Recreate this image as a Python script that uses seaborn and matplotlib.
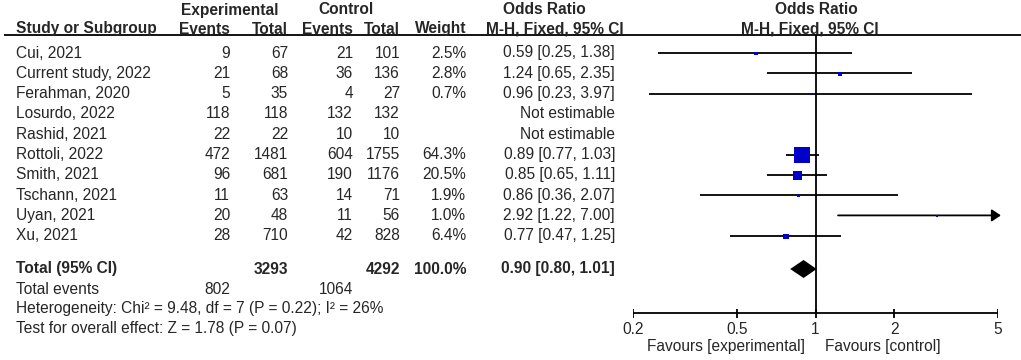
import numpy as np
import pandas as pd
import matplotlib
matplotlib.use("Agg")
import matplotlib.pyplot as plt
import seaborn as sns

# --- data ---
studies = ["Cui, 2021", "Current study, 2022", "Ferahman, 2020", "Losurdo, 2022",
           "Rashid, 2021", "Rottoli, 2022", "Smith, 2021", "Tschann, 2021",
           "Uyan, 2021", "Xu, 2021"]
exp_events = [9, 21, 5, 118, 22, 472, 96, 11, 20, 28]
exp_total = [67, 68, 35, 118, 22, 1481, 681, 63, 48, 710]
ctl_events = [21, 36, 4, 132, 10, 604, 190, 14, 11, 42]
ctl_total = [101, 136, 27, 132, 10, 1755, 1176, 71, 56, 828]
weights = [2.5, 2.8, 0.7, np.nan, np.nan, 64.3, 20.5, 1.9, 1.0, 6.4]
odds = [0.59, 1.24, 0.96, np.nan, np.nan, 0.89, 0.85, 0.86, 2.92, 0.77]
ci_low = [0.25, 0.65, 0.23, np.nan, np.nan, 0.77, 0.65, 0.36, 1.22, 0.47]
ci_high = [1.38, 2.35, 3.97, np.nan, np.nan, 1.03, 1.11, 2.07, 7.00, 1.25]

total_exp, total_ctl = 3293, 4292
events_exp, events_ctl = 802, 1064
pooled_or, pooled_lo, pooled_hi = 0.90, 0.80, 1.01
heterogeneity = "Heterogeneity: Chi² = 9.48, df = 7 (P = 0.22); I² = 26%"
overall = "Test for overall effect: Z = 1.78 (P = 0.07)"
ticks = [0.2, 0.5, 1, 2, 5]
tick_labels = ["0.2", "0.5", "1", "2", "5"]

df = pd.DataFrame({"study": studies, "w": weights, "or": odds,
                   "lo": ci_low, "hi": ci_high})

sns.set_theme(style="white")
plt.rcParams["font.family"] = ["Liberation Sans", "DejaVu Sans"]

W, H = 1021, 360
fig = plt.figure(figsize=(W / 100, H / 100), dpi=100)
fig.patch.set_facecolor("white")

# background axes in pixel coords for the table text
bg = fig.add_axes([0, 0, 1, 1])
bg.set_xlim(0, W)
bg.set_ylim(H, 0)
bg.axis("off")

# forest axes: log scale spanning 0.2..5
x0, x1 = 633, 998
ax = fig.add_axes([x0 / W, 0, (x1 - x0) / W, 1])
ax.patch.set_alpha(0)

fs = 11.2
lw = 1.3
row_y = [53 + 20.3 * i for i in range(len(studies))]
df["y"] = row_y
y_total, y_events, y_het, y_test = 269, 290, 309, 328

# headers
hb = dict(fontsize=fs, fontweight="bold", va="center")
bg.text(230, 10, "Experimental", ha="center", **hb)
bg.text(346, 10, "Control", ha="center", **hb)
bg.text(544, 10, "Odds Ratio", ha="center", **hb)
bg.text(16, 29, "Study or Subgroup", ha="left", **hb)
bg.text(230, 29, "Events", ha="right", **hb)
bg.text(288, 29, "Total", ha="right", **hb)
bg.text(353, 29, "Events", ha="right", **hb)
bg.text(400, 29, "Total", ha="right", **hb)
bg.text(466, 29, "Weight", ha="right", **hb)
bg.text(555, 29, "M-H, Fixed, 95% CI", ha="center", **hb)
bg.text(816, 10, "Odds Ratio", ha="center", **hb)
bg.text(810, 29, "M-H, Fixed, 95% CI", ha="center", **hb)
bg.hlines(35, 4, W, color="black", lw=lw)

# study rows
rt = dict(fontsize=fs, va="center")
for i, r in df.iterrows():
    y = r["y"]
    bg.text(16, y, r["study"], ha="left", **rt)
    bg.text(230, y, str(exp_events[i]), ha="right", **rt)
    bg.text(288, y, str(exp_total[i]), ha="right", **rt)
    bg.text(353, y, str(ctl_events[i]), ha="right", **rt)
    bg.text(400, y, str(ctl_total[i]), ha="right", **rt)
    if np.isnan(r["or"]):
        bg.text(615, y, "Not estimable", ha="right", **rt)
        continue
    bg.text(466, y, f"{r['w']:.1f}%", ha="right", **rt)
    bg.text(615, y, f"{r['or']:.2f} [{r['lo']:.2f}, {r['hi']:.2f}]", ha="right", **rt)
    if r["hi"] > 5:
        ax.annotate("", xy=(5.13, y), xytext=(r["lo"], y),
                    arrowprops=dict(arrowstyle="-|>,head_length=0.45,head_width=0.3",
                                    lw=lw, color="black", shrinkA=0, shrinkB=0),
                    annotation_clip=False)
    else:
        ax.hlines(y, r["lo"], r["hi"], color="black", lw=lw)

est = df.dropna(subset=["or"])
sns.scatterplot(x=est["or"], y=est["y"] + 0.5, s=est["w"] * 2.0 + 2, marker="s",
                color="#0000C8", linewidth=0, legend=False, ax=ax, zorder=3)
ax.set_xscale("log")
ax.set_xlim(0.2, 5)
ax.set_ylim(H, 0)
ax.axis("off")

# total row
bg.text(16, y_total, "Total (95% CI)", ha="left", **hb)
bg.text(288, y_total, str(total_exp), ha="right", **hb)
bg.text(400, y_total, str(total_ctl), ha="right", **hb)
bg.text(466, y_total, "100.0%", ha="right", **hb)
bg.text(615, y_total, f"{pooled_or:.2f} [{pooled_lo:.2f}, {pooled_hi:.2f}]", ha="right", **hb)
ax.fill([pooled_lo, pooled_or, pooled_hi, pooled_or],
        [y_total, y_total - 9, y_total, y_total + 9], color="black", lw=0)

bg.text(16, y_events, "Total events", ha="left", **rt)
bg.text(230, y_events, str(events_exp), ha="right", **rt)
bg.text(353, y_events, str(events_ctl), ha="right", **rt)
bg.text(16, y_het, heterogeneity, ha="left", **rt)
bg.text(16, y_test, overall, ha="left", **rt)

# null line and axis
axis_y = 313
ax.vlines(1, 35, axis_y, color="black", lw=lw)
ax.hlines(axis_y, 0.2, 5, color="black", lw=lw)
ax.vlines(ticks, axis_y - 4.5, axis_y + 4.5, color="black", lw=lw)
for t, lab in zip(ticks, tick_labels):
    ax.text(t, 329, lab, ha="center", va="center", fontsize=fs)
bg.text(805, 347, "Favours [experimental]", ha="right", **rt)
bg.text(825, 347, "Favours [control]", ha="left", **rt)

fig.savefig("out.png", dpi=100, facecolor="white")
